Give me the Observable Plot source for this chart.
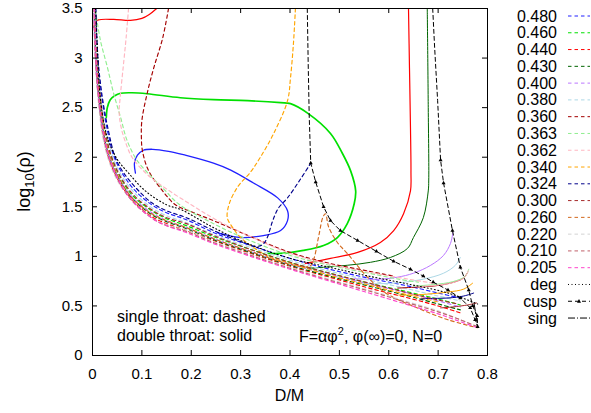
<!DOCTYPE html>
<html><head><meta charset="utf-8">
<script src="https://cdn.jsdelivr.net/npm/d3@7"></script>
<script src="https://cdn.jsdelivr.net/npm/@observablehq/plot@0.6"></script>
<style>body{margin:0;background:#fff} svg{display:block}</style>
</head><body><div id="chart"></div>
<script>
// ---------- data ----------
const xTicks = [0, 0.1, 0.2, 0.3, 0.4, 0.5, 0.6, 0.7, 0.8];
const yTicks = [0, 0.5, 1, 1.5, 2, 2.5, 3, 3.5];
const legendLabels = ["0.480","0.460","0.440","0.430","0.400","0.380","0.360","0.363","0.362","0.340","0.324","0.300","0.260","0.220","0.210","0.205","deg","cusp","sing"];

// single throat (dashed) branches, [D/M, log10 rho]
const d480 = [[0.006,3.5],[0.010,3.0],[0.019,2.6],[0.031,2.25],[0.044,2.0],[0.06,1.84],[0.085,1.67],[0.12,1.52],[0.15,1.44],[0.19,1.37],[0.25,1.23],[0.32,1.11],[0.40,0.98],[0.48,0.87],[0.56,0.78],[0.64,0.70],[0.70,0.63],[0.745,0.58]];
const d460 = [[0.005,3.5],[0.008,3.0],[0.015,2.6],[0.026,2.25],[0.038,2.0],[0.056,1.80],[0.08,1.62],[0.12,1.46],[0.15,1.38],[0.19,1.31],[0.25,1.19],[0.32,1.07],[0.40,0.94],[0.48,0.83],[0.56,0.73],[0.64,0.64],[0.70,0.57],[0.745,0.51]];
const d440 = [[0.003,3.45],[0.006,3.0],[0.012,2.6],[0.022,2.2],[0.035,1.96],[0.053,1.76],[0.08,1.57],[0.12,1.40],[0.15,1.33],[0.19,1.26],[0.25,1.15],[0.32,1.03],[0.40,0.90],[0.48,0.79],[0.56,0.68],[0.64,0.58],[0.70,0.50],[0.745,0.43]];
const d430 = [[0.004,3.4],[0.007,3.0],[0.013,2.6],[0.024,2.2],[0.037,1.96],[0.055,1.77],[0.08,1.59],[0.12,1.42],[0.15,1.35],[0.19,1.28],[0.25,1.16],[0.32,1.04],[0.40,0.91],[0.48,0.80],[0.56,0.70],[0.64,0.60],[0.70,0.52],[0.745,0.46]];
const d400 = [[0.002,3.45],[0.006,3.0],[0.012,2.6],[0.023,2.2],[0.036,1.97],[0.054,1.78],[0.08,1.60],[0.12,1.44],[0.15,1.36],[0.19,1.29],[0.25,1.17],[0.32,1.05],[0.40,0.92],[0.48,0.82],[0.56,0.72],[0.64,0.63],[0.70,0.55],[0.745,0.49]];
const d380 = [[0.005,3.45],[0.009,3.0],[0.017,2.6],[0.028,2.25],[0.041,2.0],[0.058,1.82],[0.085,1.64],[0.12,1.49],[0.15,1.41],[0.19,1.34],[0.25,1.21],[0.32,1.09],[0.40,0.96],[0.48,0.85],[0.56,0.76],[0.64,0.67],[0.70,0.60],[0.745,0.55]];
const d360 = [[0.154,3.5],[0.142,3.2],[0.124,2.9],[0.111,2.65],[0.10,2.37],[0.099,2.2],[0.101,2.07],[0.113,1.87],[0.142,1.66],[0.168,1.52],[0.20,1.45],[0.25,1.35],[0.32,1.20],[0.40,1.04],[0.48,0.93],[0.56,0.85],[0.61,0.80]];
const d363 = [[0.006,3.48],[0.016,3.18],[0.030,2.91],[0.043,2.64],[0.057,2.40],[0.070,2.17],[0.09,1.97],[0.12,1.80],[0.148,1.66],[0.174,1.53],[0.245,1.33],[0.314,1.17],[0.40,1.01],[0.48,0.91],[0.56,0.83],[0.62,0.77],[0.66,0.74]];
const d362 = [[0.073,3.5],[0.068,3.2],[0.062,2.9],[0.056,2.6],[0.054,2.45],[0.058,2.3],[0.067,2.15],[0.08,2.0],[0.11,1.83],[0.15,1.68],[0.20,1.52],[0.25,1.37],[0.32,1.20],[0.40,1.03],[0.48,0.92],[0.56,0.84],[0.64,0.77],[0.69,0.73]];
const d340 = [[0.411,3.5],[0.407,3.15],[0.401,2.8],[0.395,2.57],[0.367,2.24],[0.34,2.0],[0.32,1.85],[0.294,1.70],[0.277,1.53],[0.273,1.39],[0.284,1.29],[0.30,1.19],[0.326,1.09],[0.36,0.99],[0.40,0.93],[0.48,0.81],[0.56,0.71],[0.64,0.61],[0.70,0.54]];
const d324 = [[0.007,3.5],[0.011,3.0],[0.020,2.6],[0.033,2.25],[0.046,2.0],[0.062,1.85],[0.088,1.69],[0.12,1.54],[0.15,1.46],[0.19,1.39],[0.25,1.25],[0.30,1.15],[0.33,1.10],[0.345,1.12],[0.354,1.19],[0.365,1.36],[0.377,1.49],[0.395,1.59],[0.42,1.77],[0.442,1.94]];
const d300 = [[0.004,3.5],[0.008,3.05],[0.015,2.65],[0.026,2.25],[0.039,2.0],[0.057,1.80],[0.083,1.62],[0.12,1.47],[0.15,1.39],[0.19,1.33],[0.25,1.20],[0.32,1.07],[0.40,0.94],[0.48,0.83],[0.56,0.73],[0.64,0.63],[0.70,0.56],[0.74,0.52]];
const d260 = [[0.003,3.5],[0.007,3.05],[0.013,2.65],[0.024,2.25],[0.036,2.0],[0.055,1.78],[0.08,1.59],[0.12,1.43],[0.15,1.36],[0.19,1.29],[0.25,1.17],[0.32,1.05],[0.40,0.92],[0.44,0.90],[0.448,0.97],[0.458,1.2],[0.467,1.40],[0.472,1.43],[0.478,1.30],[0.496,1.14],[0.516,1.03],[0.557,0.79],[0.597,0.62],[0.658,0.48],[0.72,0.36],[0.78,0.28]];
const d220 = [[0.002,3.5],[0.006,3.0],[0.011,2.6],[0.021,2.2],[0.034,1.95],[0.052,1.75],[0.08,1.56],[0.12,1.39],[0.15,1.32],[0.19,1.26],[0.25,1.14],[0.32,1.02],[0.40,0.89],[0.48,0.77],[0.56,0.66],[0.64,0.54],[0.70,0.45],[0.74,0.37],[0.78,0.29]];
const d210 = [[0.003,3.5],[0.006,3.0],[0.012,2.6],[0.023,2.2],[0.036,1.95],[0.055,1.74],[0.082,1.55],[0.122,1.38],[0.15,1.31],[0.19,1.25],[0.25,1.13],[0.32,1.01],[0.40,0.88],[0.48,0.76],[0.56,0.65],[0.64,0.53],[0.70,0.44],[0.74,0.37],[0.78,0.29]];
const d205 = [[0.004,3.5],[0.007,3.0],[0.013,2.6],[0.024,2.2],[0.038,1.94],[0.057,1.73],[0.085,1.54],[0.125,1.37],[0.155,1.30],[0.19,1.24],[0.25,1.12],[0.32,1.0],[0.40,0.87],[0.48,0.75],[0.56,0.63],[0.64,0.51],[0.70,0.42],[0.74,0.35],[0.78,0.28]];

// double throat (solid) branches
const s480 = [[0.087,1.84],[0.085,1.94],[0.091,2.02],[0.103,2.07],[0.122,2.08],[0.154,2.06],[0.188,2.02],[0.245,1.94],[0.28,1.87],[0.326,1.74],[0.375,1.59],[0.395,1.46],[0.395,1.36],[0.381,1.26],[0.346,1.21],[0.30,1.19],[0.259,1.23],[0.253,1.24]];
const s460 = [[0.028,2.40],[0.030,2.50],[0.036,2.58],[0.045,2.62],[0.057,2.645],[0.08,2.65],[0.111,2.64],[0.178,2.60],[0.245,2.58],[0.314,2.57],[0.381,2.55],[0.401,2.54],[0.437,2.44],[0.482,2.24],[0.506,2.04],[0.523,1.86],[0.533,1.66],[0.530,1.53],[0.516,1.33],[0.496,1.19],[0.468,1.11],[0.427,1.06],[0.381,1.03],[0.355,1.03]];
const s440a = [[0.002,3.31],[0.006,3.36],[0.012,3.385],[0.043,3.39],[0.077,3.38],[0.10,3.40],[0.115,3.44],[0.13,3.5]];
const s440b = [[0.640,3.5],[0.642,2.9],[0.644,2.3],[0.645,1.85],[0.644,1.66],[0.630,1.43],[0.610,1.26],[0.583,1.14],[0.537,1.04],[0.482,0.98],[0.431,0.93]];
const s430 = [[0.678,3.5],[0.680,2.5],[0.681,1.77],[0.68,1.66],[0.67,1.39],[0.65,1.19],[0.638,1.08],[0.604,0.99],[0.563,0.94],[0.516,0.91],[0.468,0.89],[0.435,0.88]];
const s400 = [[0.730,1.24],[0.725,1.13],[0.711,1.01],[0.685,0.91],[0.65,0.83],[0.618,0.79],[0.583,0.77],[0.55,0.77],[0.53,0.775]];
const s380 = [[0.745,0.99],[0.735,0.91],[0.711,0.83],[0.67,0.77],[0.624,0.735],[0.583,0.725],[0.545,0.725]];
const s360 = [[0.76,0.84],[0.751,0.78],[0.725,0.73],[0.69,0.70],[0.658,0.69],[0.618,0.68]];
const s363 = [[0.762,0.87],[0.755,0.80],[0.73,0.745],[0.69,0.715],[0.65,0.70]];
const s362 = [[0.761,0.855],[0.754,0.79],[0.73,0.735],[0.69,0.705],[0.655,0.695]];
const s340 = [[0.77,0.73],[0.752,0.67],[0.72,0.64],[0.68,0.62],[0.65,0.61],[0.62,0.61]];
const s324 = [[0.772,0.63],[0.752,0.60],[0.72,0.58],[0.68,0.575],[0.665,0.57]];
const s300 = [[0.778,0.53],[0.76,0.51],[0.73,0.49],[0.705,0.48]];

const degLine = [[0.006,3.5],[0.010,3.1],[0.014,2.7],[0.022,2.37],[0.032,2.17],[0.05,1.98],[0.073,1.84],[0.107,1.66],[0.15,1.52],[0.18,1.47],[0.245,1.29],[0.314,1.13],[0.40,0.98],[0.48,0.89],[0.56,0.80],[0.64,0.72],[0.72,0.63],[0.78,0.52]];
const cuspLine = [[0.435,3.5],[0.437,2.9],[0.439,2.4],[0.442,1.94],[0.452,1.75],[0.468,1.50],[0.482,1.36],[0.502,1.26],[0.537,1.16],[0.575,1.05],[0.61,0.95],[0.644,0.87],[0.67,0.80],[0.69,0.74],[0.72,0.66],[0.745,0.58],[0.765,0.48],[0.775,0.36],[0.78,0.29],[0.779,0.40],[0.77,0.50],[0.762,0.66],[0.745,0.89],[0.729,1.26],[0.711,1.74],[0.705,1.97],[0.699,2.57],[0.693,3.1],[0.689,3.5]];
const singLine = [[0.773,0.52],[0.777,0.40],[0.78,0.30]];

// ---------- styles ----------
const colors = {"0.480":"#2020ff","0.460":"#00e000","0.440":"#ff0000","0.430":"#006400","0.400":"#bb77ff","0.380":"#add8e6","0.360":"#a40000","0.363":"#90ee90","0.362":"#ffb6c1","0.340":"#ffa500","0.324":"#00008b","0.300":"#a52a2a","0.260":"#d2691e","0.220":"#d3d3d3","0.210":"#c0606a","0.205":"#ff44cc"};
const series = [
  ["0.480", d480, [s480], 1.3],
  ["0.460", d460, [s460], 1.7],
  ["0.440", d440, [s440a, s440b], 1.2],
  ["0.430", d430, [s430], 1],
  ["0.400", d400, [s400], 1],
  ["0.380", d380, [s380], 1],
  ["0.360", d360, [s360], 1],
  ["0.363", d363, [s363], 1],
  ["0.362", d362, [s362], 1],
  ["0.340", d340, [s340], 1],
  ["0.324", d324, [s324], 1],
  ["0.300", d300, [s300], 1],
  ["0.260", d260, [], 1],
  ["0.220", d220, [], 1],
  ["0.210", d210, [], 1],
  ["0.205", d205, [], 1]
];
const DASH = "3.5,3";
const W = 591, H = 413, mL = 92, mR = 104, mT = 8, mB = 58;
const innerW = W - mL - mR, innerH = H - mT - mB;
const X = d => d[0], Y = d => d[1];

const marks = [];
for (const [key, dashed, solids, sw] of series) {
  marks.push(Plot.line(dashed, {x: X, y: Y, stroke: colors[key], strokeWidth: 1.15, strokeDasharray: DASH, curve: "catmull-rom", clip: true}));
  for (const p of solids) marks.push(Plot.line(p, {x: X, y: Y, stroke: colors[key], strokeWidth: sw, curve: "catmull-rom", clip: true}));
}
marks.push(Plot.line(degLine, {x: X, y: Y, stroke: "black", strokeWidth: 1.1, strokeDasharray: "1,2.5", curve: "catmull-rom", clip: true}));
marks.push(Plot.line(cuspLine, {x: X, y: Y, stroke: "black", strokeWidth: 1, strokeDasharray: "4,3", clip: true}));
marks.push(Plot.dot(cuspLine, {x: X, y: Y, filter: d => d[1] < 2, symbol: "triangle", r: 1.5, fill: "black", stroke: "none", clip: true}));
marks.push(Plot.line(singLine, {x: X, y: Y, stroke: "black", strokeWidth: 1, strokeDasharray: "7,2,1,2", clip: true}));

// axes, ticks (inward, mirrored), frame
marks.push(
  Plot.tickX(xTicks, {x: d => d, insetTop: innerH - 5, stroke: "black"}),
  Plot.tickX(xTicks, {x: d => d, insetBottom: innerH - 5, stroke: "black"}),
  Plot.tickY(yTicks, {y: d => d, insetRight: innerW - 5, stroke: "black"}),
  Plot.tickY(yTicks, {y: d => d, insetLeft: innerW - 5, stroke: "black"}),
  Plot.axisX({ticks: xTicks, tickSize: 0, tickPadding: 13, tickFormat: d => String(d), label: null}),
  Plot.axisY({ticks: yTicks, tickSize: 0, tickPadding: 10, tickFormat: d => String(d), label: null}),
  Plot.frame({stroke: "black", strokeWidth: 1})
);

const svg = Plot.plot({
  width: W, height: H,
  marginLeft: mL, marginRight: mR, marginTop: mT, marginBottom: mB,
  x: {domain: [0, 0.8]},
  y: {domain: [0, 3.5]},
  style: {fontFamily: "'Liberation Sans', Arial, sans-serif", fontSize: "15px", color: "black", background: "white", overflow: "visible"},
  marks
});
document.getElementById("chart").append(svg);

// ---------- texts & legend ----------
const g = d3.select(svg).append("g").attr("font-family", "'Liberation Sans', Arial, sans-serif").attr("fill", "black").attr("text-anchor", "start");
g.append("text").attr("x", (mL + W - mR) / 2).attr("y", 401).attr("text-anchor", "middle").attr("font-size", 16).text("D/M");
const yl = g.append("text").attr("transform", `translate(30,${mT + innerH / 2}) rotate(-90)`).attr("text-anchor", "middle").attr("font-size", 18);
yl.append("tspan").text("log");
yl.append("tspan").attr("font-size", 13).attr("dy", 4).text("10");
yl.append("tspan").attr("dy", -4).text("(ρ)");

g.append("text").attr("x", 117).attr("y", 322).attr("text-anchor", "start").attr("font-size", 16).text("single throat: dashed");
g.append("text").attr("x", 117).attr("y", 341).attr("text-anchor", "start").attr("font-size", 16).text("double throat: solid");
const ft = g.append("text").attr("x", 299).attr("y", 342).attr("text-anchor", "start").attr("font-size", 16);
ft.append("tspan").text("F=αφ");
ft.append("tspan").attr("font-size", 11).attr("dy", -7).text("2");
ft.append("tspan").attr("dy", 7).text(", φ(∞)=0, N=0");

const lg = g.append("g");
legendLabels.forEach((lab, i) => {
  const yy = 16 + i * 16.78;
  lg.append("text").attr("x", 557).attr("y", yy + 5.5).attr("text-anchor", "end").attr("font-size", 16).text(lab);
  let stroke = colors[lab] || "black", dash = DASH;
  if (lab === "deg") dash = "1,2.5";
  if (lab === "cusp") dash = "4,3";
  if (lab === "sing") dash = "7,2,1,2";
  lg.append("line").attr("x1", 568).attr("x2", 590).attr("y1", yy).attr("y2", yy)
    .attr("stroke", stroke).attr("stroke-width", 1).attr("stroke-dasharray", dash);
  if (lab === "cusp") lg.append("path").attr("d", `M579,${yy-2.2}L581,${yy+1.6}L577,${yy+1.6}Z`).attr("fill", "black");
});
</script>
</body></html>
